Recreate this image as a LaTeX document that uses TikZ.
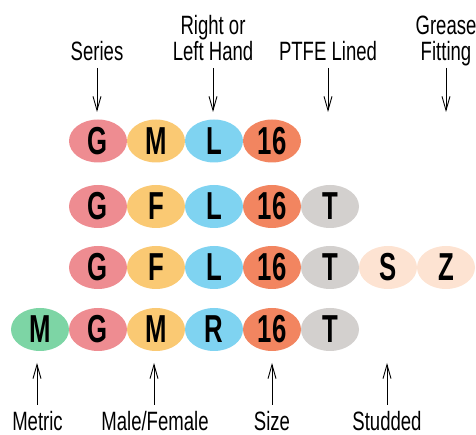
\documentclass[tikz,border=0pt]{standalone}
\usepackage{fontspec}
\usetikzlibrary{shapes.geometric,arrows.meta}
\newfontfamily\labfont[FakeStretch=0.7]{Liberation Sans}
\newfontfamily\codefont[FakeStretch=0.66]{Liberation Sans}
\definecolor{cG}{HTML}{EE8C91}
\definecolor{cM}{HTML}{FAC973}
\definecolor{cL}{HTML}{7FD3F1}
\definecolor{cN}{HTML}{F28560}
\definecolor{cT}{HTML}{D3D0CE}
\definecolor{cS}{HTML}{FDE3D2}
\definecolor{cX}{HTML}{7DD5A5}
\begin{document}
\begin{tikzpicture}[x=1pt,y=1pt,
  code/.style={ellipse,fill=#1,draw=none,minimum width=58pt,minimum height=43pt,inner sep=0pt,
    font=\codefont\bfseries\fontsize{39}{39}\selectfont,text=black},
  toplab/.style={anchor=south,inner sep=0pt,text depth=0pt,align=center,
    font=\labfont\fontsize{26.5}{26}\selectfont},
  botlab/.style={anchor=base,inner sep=0pt,text depth=0pt,text height=19pt,
    font=\labfont\fontsize{26.5}{26}\selectfont},
  arr/.style={draw=black,line width=0.9pt,-{Straight Barb[length=14pt,width=8pt,line width=0.9pt]}}]
\useasboundingbox (0,0) rectangle (476,435);
% row 1
\node[code=cG] (a1) at (98,294) {G};
\node[code=cM] (a2) at (156,294) {M};
\node[code=cL] (a3) at (214,294) {L};
\node[code=cN] (a4) at (272,294) {16};
% row 2
\node[code=cG] (b1) at (98,228.5) {G};
\node[code=cM] (b2) at (156,228.5) {F};
\node[code=cL] (b3) at (214,228.5) {L};
\node[code=cN] (b4) at (272,228.5) {16};
\node[code=cT] (b5) at (330,228.5) {T};
% row 3
\node[code=cG] (c1) at (98,167.5) {G};
\node[code=cM] (c2) at (156,167.5) {F};
\node[code=cL] (c3) at (214,167.5) {L};
\node[code=cN] (c4) at (272,167.5) {16};
\node[code=cT] (c5) at (330,167.5) {T};
\node[code=cS] (c6) at (388,167.5) {S};
\node[code=cS] (c7) at (446,167.5) {Z};
% row 4
\node[code=cX] (d0) at (40,105.5) {M};
\node[code=cG] (d1) at (98,105.5) {G};
\node[code=cM] (d2) at (156,105.5) {M};
\node[code=cL] (d3) at (214,105.5) {R};
\node[code=cN] (d4) at (272,105.5) {16};
\node[code=cT] (d5) at (330,105.5) {T};
% top labels
\node[toplab] (lser) at (97,374) {Series};
\node[toplab] (lhand) at (213,374) {Right or\\Left Hand};
\node[toplab] (lptfe) at (328,374) {PTFE Lined};
\node[toplab] (lgrease) at (446,374) {Grease\\Fitting};
\coordinate (tser) at (97,323);
\coordinate (thand) at (213,323);
\coordinate (tptfe) at (328,323);
\coordinate (tgrease) at (446,323);
\draw[arr] ([yshift=-7pt]lser.south) -- (tser);
\draw[arr] ([yshift=-7pt]lhand.south) -- (thand);
\draw[arr] ([yshift=-7pt]lptfe.south) -- (tptfe);
\draw[arr] ([yshift=-7pt]lgrease.south) -- (tgrease);
% bottom labels
\node[botlab] (lmet) at (37.5,4) {Metric};
\node[botlab] (lmf) at (155,4) {Male/Female};
\node[botlab] (lsize) at (272,4) {Size};
\node[botlab] (lstud) at (387,4) {Studded};
\coordinate (bmet) at (37,72);
\coordinate (bmf) at (154,72);
\coordinate (bsize) at (272,72);
\coordinate (bstud) at (387,72);
\draw[arr] ([yshift=7pt]lmet.north -| bmet) -- (bmet);
\draw[arr] ([yshift=7pt]lmf.north -| bmf) -- (bmf);
\draw[arr] ([yshift=7pt]lsize.north -| bsize) -- (bsize);
\draw[arr] ([yshift=7pt]lstud.north -| bstud) -- (bstud);
\end{tikzpicture}
\end{document}
